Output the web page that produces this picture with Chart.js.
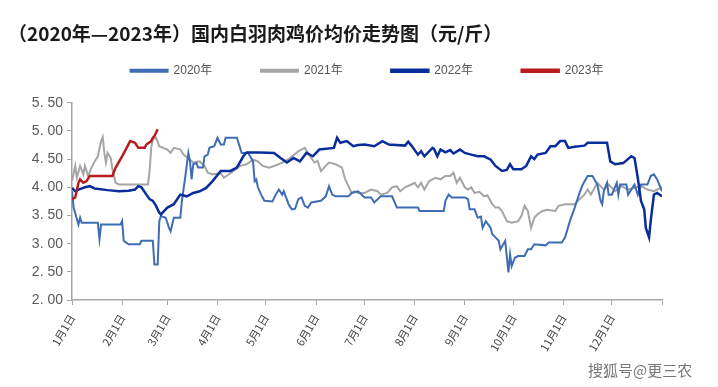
<!DOCTYPE html>
<html lang="zh">
<head>
<meta charset="UTF-8">
<title>国内白羽肉鸡价均价走势图</title>
<script src="https://cdn.jsdelivr.net/npm/chart.js@4.4.0/dist/chart.umd.min.js"></script>
<style>
  html, body { margin: 0; padding: 0; background: #fff; }
  #wrap { width: 718px; height: 387px; position: relative; }
</style>
</head>
<body>
<div id="wrap"><canvas id="myChart" width="718" height="387"></canvas></div>
<script>
// x = day of year (0 = 1月1日), y = 元/斤
var monthStarts = [0, 31, 59, 90, 120, 151, 181, 212, 243, 273, 304, 334, 365];
var monthLabels = ['1月1日','2月1日','3月1日','4月1日','5月1日','6月1日','7月1日','8月1日','9月1日','10月1日','11月1日','12月1日',''];
var yTicks = [2.0, 2.5, 3.0, 3.5, 4.0, 4.5, 5.0, 5.5];

var days2020 = [0,1,4,5,6,16,17,18,30,31,32,35,42,43,50,51,53,54,55,58,60,61,63,67,68,70,72,73,74,75,77,78,81,82,84,85,88,90,92,94,95,102,104,105,109,112,113,114,115,117,119,124,126,128,130,131,134,136,138,140,142,144,146,148,154,157,159,161,163,171,173,177,181,185,187,191,198,201,214,215,230,231,233,235,243,245,246,249,251,253,254,256,259,260,264,265,268,270,271,272,274,276,280,282,284,286,293,295,303,305,308,311,314,316,319,322,325,327,328,329,331,332,334,337,338,339,343,344,348,350,352,356,358,360,362,365];
var vals2020 = [3.93,3.64,3.34,3.46,3.37,3.37,3.08,3.34,3.34,3.40,3.05,2.99,2.99,3.05,3.05,2.63,2.63,3.40,3.49,3.46,3.28,3.22,3.46,3.46,3.76,4.17,4.61,4.46,4.14,4.41,4.43,4.35,4.35,4.55,4.58,4.70,4.73,4.88,4.76,4.76,4.88,4.88,4.70,4.61,4.61,4.46,4.11,4.14,4.00,3.87,3.76,3.75,3.87,3.96,3.87,3.93,3.70,3.61,3.62,3.79,3.82,3.67,3.64,3.73,3.76,3.84,4.02,3.87,3.84,3.84,3.90,3.93,3.82,3.82,3.73,3.84,3.84,3.64,3.64,3.58,3.58,3.76,3.87,3.82,3.82,3.79,3.61,3.61,3.46,3.48,3.28,3.40,3.28,3.17,3.05,2.90,3.05,2.49,2.81,2.60,2.75,2.78,2.78,2.90,2.90,2.99,2.97,3.02,3.02,3.11,3.40,3.64,3.90,4.05,4.20,4.20,4.05,3.76,3.70,3.93,4.08,3.87,3.87,4.08,3.87,4.05,4.05,3.87,4.05,3.87,4.05,4.05,4.20,4.23,4.14,3.93];

var days2021 = [0,2,3,5,7,8,10,12,14,16,18,19,20,21,22,24,25,27,29,47,48,49,50,52,54,59,61,63,67,69,73,75,79,82,84,87,92,94,100,104,108,112,115,118,122,127,131,135,140,144,148,150,152,154,157,159,163,167,169,171,173,175,177,181,185,189,191,195,198,201,203,206,210,212,214,216,218,221,225,228,231,234,236,238,240,243,245,247,249,252,255,257,260,262,264,266,269,272,276,278,280,282,284,286,288,291,294,299,301,305,311,314,317,319,321,325,329,332,336,340,344,348,352,356,360,365];
var vals2021 = [4.11,4.38,4.17,4.38,4.23,4.38,4.20,4.35,4.46,4.55,4.82,4.89,4.61,4.44,4.61,4.52,4.32,4.08,4.05,4.05,4.29,4.70,4.85,4.88,4.73,4.67,4.61,4.70,4.67,4.58,4.49,4.44,4.46,4.38,4.26,4.23,4.25,4.17,4.29,4.38,4.41,4.49,4.46,4.38,4.35,4.40,4.45,4.52,4.64,4.70,4.52,4.44,4.47,4.29,4.38,4.44,4.41,4.35,4.14,4.02,3.90,3.93,3.90,3.90,3.96,3.93,3.87,3.90,4.00,4.02,3.93,4.00,4.05,4.08,4.00,4.08,3.96,4.11,4.17,4.14,4.20,4.20,4.26,4.08,4.17,4.00,3.96,4.00,3.90,3.92,3.84,3.86,3.70,3.64,3.64,3.58,3.40,3.37,3.40,3.49,3.67,3.58,3.28,3.46,3.52,3.58,3.60,3.58,3.67,3.70,3.70,3.79,3.87,3.96,3.87,4.08,3.96,4.05,3.93,4.02,3.96,3.99,4.02,3.96,3.93,4.00];

var days2022 = [0,2,4,8,11,14,22,29,35,39,41,43,46,48,50,52,54,55,59,63,67,71,75,79,83,87,92,98,102,106,108,116,125,129,133,137,141,145,149,153,162,164,166,170,174,177,181,187,192,196,206,208,210,214,216,218,223,224,226,228,231,234,236,240,243,247,251,255,259,262,266,269,271,273,278,281,284,286,288,293,296,299,302,305,307,311,317,319,331,333,336,341,346,348,350,352,354,355,357,358,360,362,365];
var vals2022 = [3.99,3.93,3.96,4.00,4.02,3.98,3.95,3.93,3.94,3.96,4.02,4.00,3.87,3.79,3.76,3.67,3.55,3.52,3.64,3.70,3.87,3.84,3.90,3.93,3.99,4.11,4.29,4.29,4.35,4.55,4.62,4.62,4.61,4.52,4.44,4.52,4.46,4.61,4.55,4.67,4.70,4.88,4.79,4.82,4.73,4.75,4.76,4.73,4.82,4.76,4.74,4.81,4.74,4.58,4.64,4.55,4.70,4.68,4.55,4.67,4.62,4.66,4.60,4.67,4.61,4.58,4.55,4.55,4.49,4.38,4.29,4.31,4.41,4.32,4.32,4.38,4.55,4.50,4.58,4.61,4.73,4.73,4.82,4.82,4.70,4.72,4.74,4.79,4.79,4.46,4.41,4.43,4.55,4.52,4.17,3.76,3.61,3.28,3.11,3.40,3.87,3.90,3.84];

var days2023 = [0,2,4,5,7,9,11,25,27,31,36,39,41,45,46,49,50,51,53];
var vals2023 = [3.79,3.82,4.08,4.14,4.08,4.11,4.20,4.20,4.35,4.55,4.82,4.79,4.70,4.70,4.76,4.82,4.88,4.91,5.03];

function toPoints(days, vals) {
  return days.map(function (d, i) { return { x: d, y: vals[i] }; });
}

function makeSet(label, days, vals, color, width, order) {
  return {
    label: label,
    data: toPoints(days, vals),
    borderColor: color,
    backgroundColor: color,
    borderWidth: width,
    pointRadius: 0,
    tension: 0,
    order: order
  };
}

// leave some room between the legend and the plot
var legendSpace = {
  id: 'legendSpace',
  beforeUpdate: function (chart) {
    var lg = chart.legend;
    if (lg && !lg._spaced) {
      var fit = lg.fit;
      lg.fit = function () { fit.call(this); this.height += 16; };
      lg._spaced = true;
    }
  }
};

var watermark = {
  id: 'watermark',
  afterDraw: function (chart) {
    var ctx = chart.ctx;
    ctx.save();
    ctx.font = '15px "Noto Sans CJK SC"';
    ctx.textBaseline = 'middle';
    ctx.lineWidth = 3;
    ctx.strokeStyle = 'rgba(255,255,255,0.9)';
    ctx.strokeText('搜狐号@更三农', 588, 370);
    ctx.fillStyle = '#777';
    ctx.fillText('搜狐号@更三农', 588, 370);
    ctx.restore();
  }
};

var axisColor = '#a6a6a6';
var ctx = document.getElementById('myChart').getContext('2d');
var myChart = new Chart(ctx, {
  type: 'line',
  data: {
    datasets: [
      makeSet('2020年', days2020, vals2020, '#3f6db5', 2, 2),
      makeSet('2021年', days2021, vals2021, '#a5a5a5', 2, 3),
      makeSet('2022年', days2022, vals2022, '#0a2d9c', 2.5, 1),
      makeSet('2023年', days2023, vals2023, '#b81c1c', 2.5, 0)
    ]
  },
  options: {
    responsive: false,
    animation: false,
    layout: { padding: { left: 8, right: 56, top: 0, bottom: 0 } },
    plugins: {
      title: {
        display: true,
        text: '（2020年—2023年）国内白羽肉鸡价均价走势图（元/斤）',
        align: 'start',
        color: '#1a1a1a',
        font: { family: '"Noto Sans CJK SC"', size: 19, weight: 'bold' },
        padding: { top: 22, bottom: 8 }
      },
      legend: {
        display: true,
        fullSize: false,
        labels: {
          boxWidth: 37,
          boxHeight: 2,
          padding: 12,
          color: '#555',
          font: { family: '"Liberation Sans", "Noto Sans CJK SC"', size: 12 },
          generateLabels: function (chart) {
            var items = Chart.defaults.plugins.legend.labels.generateLabels(chart);
            items.sort(function (a, b) { return a.datasetIndex - b.datasetIndex; });
            items.forEach(function (it, i) {
              if (i < items.length - 1) it.text = it.text + '           ';
            });
            return items;
          }
        }
      },
      tooltip: { enabled: false }
    },
    scales: {
      x: {
        type: 'linear',
        min: 0,
        max: 365,
        afterBuildTicks: function (scale) {
          scale.ticks = monthStarts.map(function (d) { return { value: d }; });
        },
        afterFit: function (scale) { scale.height = 87; },
        ticks: {
          autoSkip: false,
          minRotation: 60,
          maxRotation: 60,
          padding: 7,
          color: '#444',
          font: { family: '"Noto Sans CJK SC"', size: 11 },
          callback: function (v) {
            var i = monthStarts.indexOf(v);
            return i >= 0 ? monthLabels[i] : '';
          }
        },
        grid: { drawOnChartArea: false, drawTicks: true, tickLength: 5, color: axisColor },
        border: { color: axisColor, width: 1.5 }
      },
      y: {
        min: 2,
        max: 5.5,
        afterBuildTicks: function (scale) {
          scale.ticks = yTicks.map(function (v) { return { value: v }; });
        },
        afterFit: function (scale) { scale.width = 64; },
        ticks: {
          color: '#595959',
          padding: 4,
          font: { family: '"Liberation Sans"', size: 14 },
          callback: function (v) { return v.toFixed(2).replace('.', '. '); }
        },
        grid: { drawOnChartArea: false, drawTicks: true, tickLength: 5, color: axisColor },
        border: { color: axisColor, width: 1.5 }
      }
    }
  },
  plugins: [legendSpace, watermark]
});
</script>
</body>
</html>
